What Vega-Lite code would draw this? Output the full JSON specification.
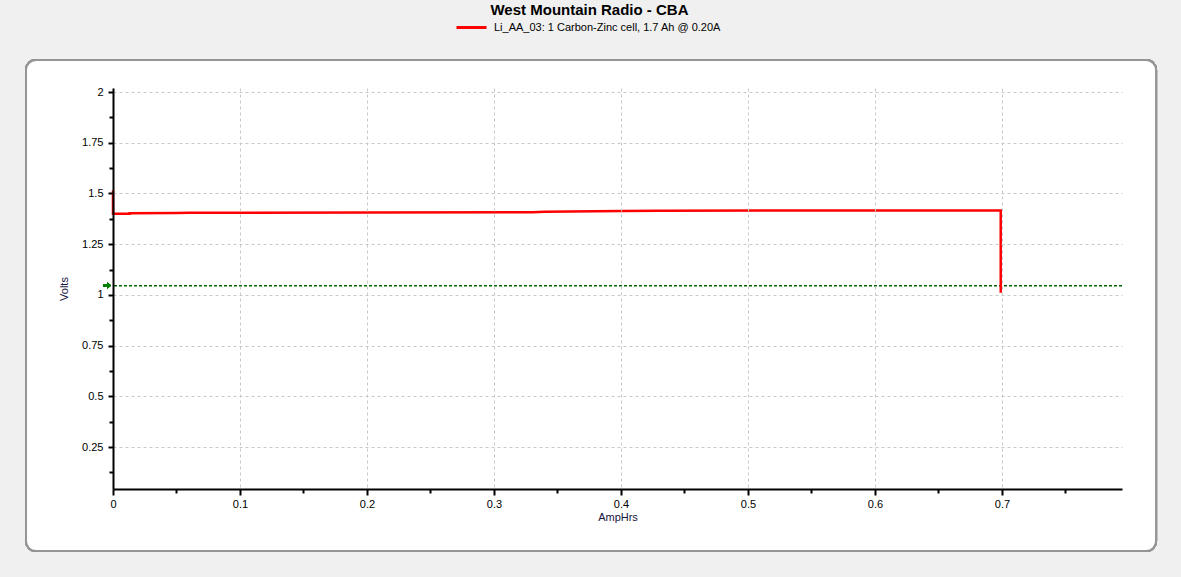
{
  "$schema": "https://vega.github.io/schema/vega-lite/v6.json",
  "autosize": "none",
  "width": 1009,
  "height": 401,
  "padding": {"left": 113, "top": 88, "right": 59, "bottom": 88},
  "background": "#f0f0f0",
  "title": {
    "text": "West Mountain Radio - CBA",
    "font": "Liberation Sans",
    "fontSize": 15,
    "fontWeight": "bold",
    "color": "#000000",
    "anchor": "middle",
    "frame": "group",
    "baseline": "alphabetic",
    "dx": -28,
    "offset": -19
  },
  "config": {
    "view": {"stroke": null},
    "axis": {"labelFont": "Liberation Sans", "titleFont": "Liberation Sans"}
  },
  "data": {
    "values": [
      {"seq": 1, "AmpHrs": 0.0, "Volts": 1.515},
      {"seq": 2, "AmpHrs": 0.0, "Volts": 1.4},
      {"seq": 3, "AmpHrs": 0.013, "Volts": 1.4},
      {"seq": 4, "AmpHrs": 0.013, "Volts": 1.403},
      {"seq": 5, "AmpHrs": 0.05, "Volts": 1.404},
      {"seq": 6, "AmpHrs": 0.06, "Volts": 1.405},
      {"seq": 7, "AmpHrs": 0.2, "Volts": 1.406},
      {"seq": 8, "AmpHrs": 0.33, "Volts": 1.407},
      {"seq": 9, "AmpHrs": 0.34, "Volts": 1.41},
      {"seq": 10, "AmpHrs": 0.4, "Volts": 1.413},
      {"seq": 11, "AmpHrs": 0.43, "Volts": 1.415},
      {"seq": 12, "AmpHrs": 0.55, "Volts": 1.416},
      {"seq": 13, "AmpHrs": 0.699, "Volts": 1.416},
      {"seq": 14, "AmpHrs": 0.699, "Volts": 1.01}
    ]
  },
  "resolve": {"axis": {"x": "independent", "y": "independent"}},
  "layer": [
    {
      "mark": {"type": "rect", "fill": "#ffffff", "stroke": "#959595", "strokeWidth": 2, "cornerRadius": 10},
      "encoding": {
        "x": {"datum": -0.0685, "type": "quantitative", "scale": {"domain": [0, 0.7945], "nice": false, "zero": false}, "axis": null},
        "x2": {"datum": 0.8213},
        "y": {"datum": 2.158, "type": "quantitative", "scale": {"domain": [0.043, 2.02], "nice": false, "zero": false}, "axis": null},
        "y2": {"datum": -0.263}
      }
    },
    {
      "mark": {"type": "rule", "color": "#006400", "strokeWidth": 1, "strokeDash": [3, 2]},
      "encoding": {
        "y": {"datum": 1.046, "type": "quantitative", "axis": null}
      }
    },
    {
      "mark": {"type": "line", "strokeWidth": 2.5, "interpolate": "linear"},
      "encoding": {
        "x": {
          "field": "AmpHrs",
          "type": "quantitative",
          "axis": {
            "values": [0, 0.1, 0.2, 0.3, 0.4, 0.5, 0.6, 0.7],
            "format": ".2~f",
            "title": "AmpHrs",
            "titleFontSize": 11,
            "titleFontWeight": "normal",
            "titleColor": "#14143c",
            "titlePadding": 2,
            "labelFontSize": 11,
            "labelColor": "#000000",
            "labelPadding": 3,
            "labelFlush": false,
            "domainColor": "#000000",
            "domainWidth": 2,
            "tickColor": "#000000",
            "tickWidth": 2,
            "tickSize": 6,
            "grid": true,
            "gridColor": "#c8c8c8",
            "gridDash": [3, 3],
            "gridWidth": 1,
            "zindex": 1
          }
        },
        "y": {
          "field": "Volts",
          "type": "quantitative",
          "axis": {
            "values": [0.25, 0.5, 0.75, 1, 1.25, 1.5, 1.75, 2],
            "format": ".2~f",
            "title": "Volts",
            "titleFontSize": 11,
            "titleFontWeight": "normal",
            "titleColor": "#14143c",
            "titlePadding": 12,
            "labelFontSize": 11,
            "labelColor": "#000000",
            "labelPadding": 5,
            "labelFlush": false,
            "domainColor": "#000000",
            "domainWidth": 2,
            "tickColor": "#000000",
            "tickWidth": 2,
            "tickSize": 5,
            "grid": true,
            "gridColor": "#c8c8c8",
            "gridDash": [3, 3],
            "gridWidth": 1,
            "zindex": 1
          }
        },
        "order": {"field": "seq", "type": "quantitative"},
        "color": {
          "datum": "Li_AA_03: 1 Carbon-Zinc cell, 1.7 Ah @ 0.20A",
          "type": "nominal",
          "scale": {"range": ["#ff0000"]},
          "legend": {
            "orient": "none",
            "legendX": 342,
            "legendY": -77,
            "title": null,
            "padding": 0,
            "symbolType": "stroke",
            "symbolSize": 900,
            "symbolStrokeWidth": 3,
            "labelFont": "Liberation Sans",
            "labelFontSize": 11,
            "labelColor": "#000000",
            "labelOffset": 6,
            "labelLimit": 400
          }
        }
      }
    },
    {
      "mark": {"type": "point", "shape": "M-1,-0.35L0.1,-0.35L0.1,-0.75L1,0L0.1,0.75L0.1,0.35L-1,0.35Z", "filled": true, "color": "#008000", "size": 64, "opacity": 1},
      "encoding": {
        "x": {
          "datum": -0.0047,
          "type": "quantitative",
          "axis": {
            "orient": "bottom",
            "values": [0.05, 0.15, 0.25, 0.35, 0.45, 0.55, 0.65, 0.75],
            "labels": false,
            "title": null,
            "domain": false,
            "grid": false,
            "tickColor": "#000000",
            "tickWidth": 2,
            "tickSize": 4,
            "zindex": 1
          }
        },
        "y": {
          "datum": 1.046,
          "type": "quantitative",
          "axis": {
            "orient": "left",
            "values": [0.125, 0.375, 0.625, 0.875, 1.125, 1.375, 1.625, 1.875],
            "labels": false,
            "title": null,
            "domain": false,
            "grid": false,
            "tickColor": "#000000",
            "tickWidth": 2,
            "tickSize": 4,
            "zindex": 1
          }
        }
      }
    }
  ]
}
